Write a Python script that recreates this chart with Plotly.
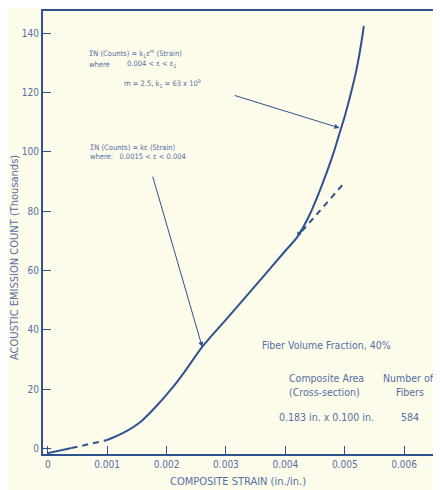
import plotly.graph_objects as go

# ---- data (strain in in./in., counts in thousands) ----
start_x = [0.0, 0.0004]
start_y = [-1.5, 0.2]
gap_x = [0.0004, 0.001]
gap_y = [0.2, 2.9]
main_x = [0.001, 0.00127, 0.00156, 0.00185, 0.00211, 0.0023, 0.0026, 0.003, 0.0035, 0.004,
          0.0042, 0.0044, 0.0046, 0.0048, 0.0049, 0.005, 0.0051, 0.0052, 0.0053, 0.00532]
main_y = [2.9, 5.3, 9.0, 14.8, 20.8, 25.8, 34.3, 43.5, 55.0, 66.7,
          71.3, 78.5, 88.0, 99.0, 105.5, 112.0, 119.5, 128.0, 139.5, 142.5]
ext_x = [0.00428, 0.00501]
ext_y = [73.3, 90.0]

x_ticks = [0, 0.001, 0.002, 0.003, 0.004, 0.005, 0.006]
x_tick_text = ["0", "0.001", "0.002", "0.003", "0.004", "0.005", "0.006"]
y_ticks = [0, 20, 40, 60, 80, 100, 120, 140]

BG = "#fdfbe9"
LINE = "#2f5291"
TXT = "#5470a6"
FONT = "DejaVu Sans Condensed, Liberation Sans Narrow, Arial Narrow, sans-serif"

OFF = 8  # page body margin
W, H = 441 - OFF, 490 - OFF
L, R, T, B = 43 - OFF, 0, 11 - OFF, 490 - 454


def px(xp):
    return (xp - OFF - L) / (W - L - R)


def py(yp):
    return (H - B - (yp - OFF)) / (H - B - T)


fig = go.Figure()
fig.add_trace(go.Scatter(x=start_x, y=start_y, mode="lines", line=dict(color=LINE, width=2)))
fig.add_trace(go.Scatter(x=gap_x, y=gap_y, mode="lines", line=dict(color=LINE, width=2, dash="6px,5px")))
fig.add_trace(go.Scatter(x=main_x, y=main_y, mode="lines", line=dict(color=LINE, width=2, shape="spline", smoothing=0.8)))
fig.add_trace(go.Scatter(x=ext_x, y=ext_y, mode="lines", line=dict(color=LINE, width=2, dash="6px,5px")))

ann = []


def text(s, xp, yp, size, anchor="left"):
    ann.append(dict(text=s, x=px(xp), y=py(yp), xref="paper", yref="paper",
                    xanchor=anchor, yanchor="middle", showarrow=False,
                    font=dict(family=FONT, size=size, color=TXT)))


text("ΣN (Counts) = k<sub>1</sub>ε<sup>m</sup> (Strain)", 87, 53, 7.5)
text("where", 87, 64, 7.5)
text("0.004 &lt; ε &lt; ε<sub>1</sub>", 125, 64, 7.5)
text("m = 2.5, k<sub>1</sub> = 63 x 10<sup>9</sup>", 122, 83, 7.5)
text("ΣN (Counts) = kε (Strain)", 88, 147, 7.5)
text("where:   0.0015 &lt; ε &lt; 0.004", 88, 156, 7.5)

text("Fiber Volume Fraction, 40%", 260, 345, 10.5)
text("Composite Area", 287, 378, 10.5)
text("Number of", 381, 378, 10.5)
text("(Cross-section)", 287, 392, 10.5)
text("Fibers", 410, 392, 10.5, "center")
text("0.183 in. x 0.100 in.", 277, 417, 10.5)
text("584", 410, 417, 10.5, "center")

# axis titles
ann.append(dict(text="COMPOSITE STRAIN (in./in.)", x=px(238), y=py(481), xref="paper", yref="paper",
                xanchor="center", yanchor="middle", showarrow=False,
                font=dict(family=FONT, size=11, color=TXT)))
ann.append(dict(text="ACOUSTIC EMISSION COUNT (Thousands)", x=px(15), y=py(258), xref="paper", yref="paper",
                xanchor="center", yanchor="middle", showarrow=False, textangle=-90,
                font=dict(family=FONT, size=11, color=TXT)))

# leader arrows
for (x0, y0, x1, y1) in [(0.00312, 119.2, 0.00491, 108.1), (0.00176, 92.2, 0.0026, 34.3), (0.00428, 74.5, 0.0042, 71.3)]:
    ann.append(dict(x=x1, y=y1, ax=x0, ay=y0, xref="x", yref="y", axref="x", ayref="y",
                    showarrow=True, arrowhead=2, arrowsize=1, arrowwidth=1, arrowcolor=LINE, text=""))

fig.update_layout(
    width=W, height=H, margin=dict(l=L, r=R, t=T, b=B),
    paper_bgcolor=BG, plot_bgcolor=BG, showlegend=False,
    annotations=ann,
    xaxis=dict(range=[-0.00008, 0.00662], tickvals=x_ticks, ticktext=x_tick_text,
               showgrid=False, zeroline=False, showline=True, linecolor=LINE, linewidth=2,
               mirror=True, ticks="inside", ticklen=8, tickcolor=LINE, tickwidth=1,
               tickfont=dict(family=FONT, size=10, color=TXT)),
    yaxis=dict(range=[-1.8, 147.5], tickvals=y_ticks,
               showgrid=False, zeroline=False, showline=True, linecolor=LINE, linewidth=2,
               ticks="inside", ticklen=8, tickcolor=LINE, tickwidth=1,
               tickfont=dict(family=FONT, size=10, color=TXT)),
)

fig.write_html("out.html")
